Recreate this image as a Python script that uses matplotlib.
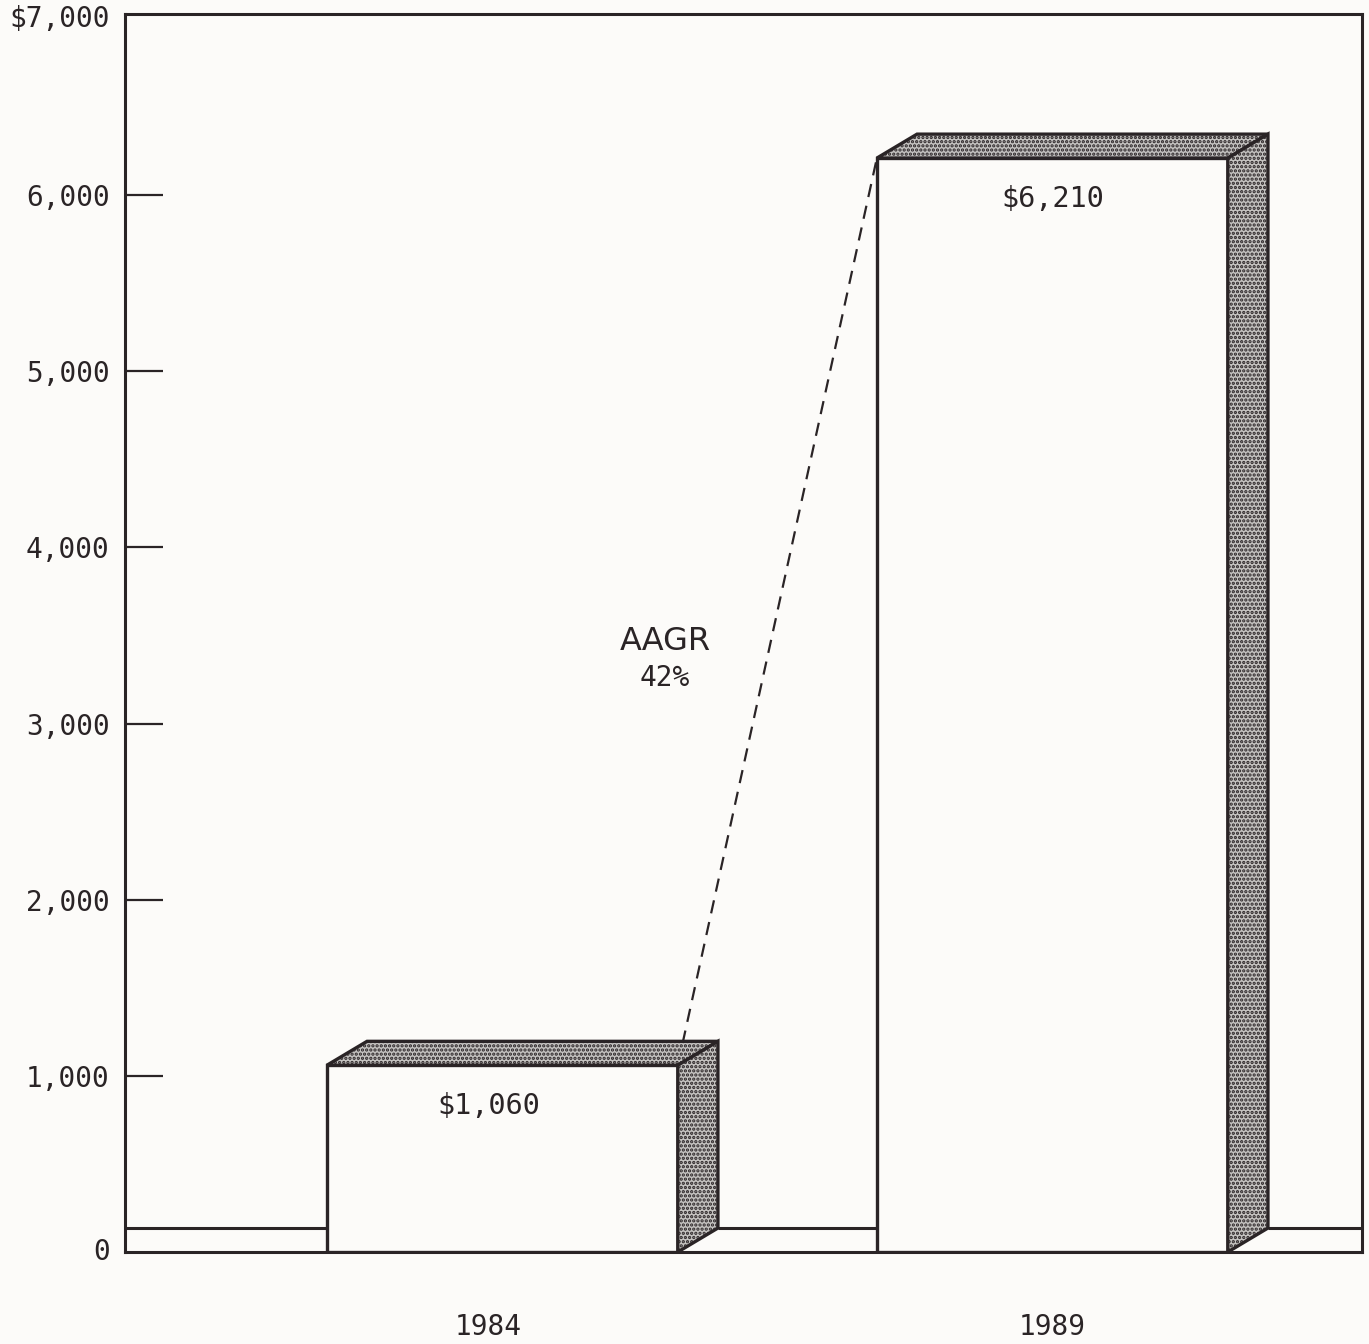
# Two-year revenue bar chart with pseudo-3D blocks and AAGR annotation

import numpy as np
import matplotlib.pyplot as plt
from matplotlib.patches import Polygon

# Data
years = ['1984', '1989']
values = [1060, 6210]
value_labels = ['$1,060', '$6,210']
yticks = [0, 1000, 2000, 3000, 4000, 5000, 6000, 7000]
ytick_labels = ['0', '1,000', '2,000', '3,000', '4,000', '5,000', '6,000', '$7,000']
growth_label = 'AAGR'
growth_value = '42%'

ink = '#2a2426'
bg = '#fcfbf9'
stipple = '#c4c2c0'
plt.rcParams['hatch.color'] = ink
plt.rcParams['hatch.linewidth'] = 1.6
mono = 'DejaVu Sans Mono'

fig = plt.figure(figsize=(13.69, 13.44), dpi=100, facecolor=bg)
ax = fig.add_axes([125 / 1369, 1 - 1252 / 1344, 1237 / 1369, (1252 - 14) / 1344])
ax.set_facecolor(bg)

xpos = np.arange(len(years))
width = 0.638
dx = 0.073        # depth offset, x (data units)
dy = 136          # depth offset, y (data units)
xmin, xmax = -0.686, 1.563
ax.set_xlim(xmin, xmax)
ax.set_ylim(0, 7028)
label_shift = [-10, 0]   # small horizontal nudges of the labels, points

# Back edge of the floor, broken by the bars
floor_x = [xmin]
for x in xpos:
    floor_x += [x - width / 2, x + width / 2 + dx]
floor_x.append(xmax)
for a, b in zip(floor_x[0::2], floor_x[1::2]):
    ax.plot([a, b], [dy, dy], color=ink, lw=2.2, solid_capstyle='butt', zorder=2)

# Dashed growth line between front top corners
ax.plot([xpos[0] + width / 2, xpos[1] - width / 2], [values[0], values[1]],
        color=ink, lw=1.6, ls=(0, (6, 4)), zorder=1)

for x, v, lab, yr, sh in zip(xpos, values, value_labels, years, label_shift):
    l, r = x - width / 2, x + width / 2
    # front face
    ax.add_patch(Polygon([(l, 0), (r, 0), (r, v), (l, v)], closed=True,
                         facecolor=bg, edgecolor=ink, lw=2.4, zorder=3))
    # top face
    ax.add_patch(Polygon([(l, v), (r, v), (r + dx, v + dy), (l + dx, v + dy)],
                         closed=True, facecolor=stipple, edgecolor=ink,
                         hatch='....', lw=2.4, zorder=4))
    # side face
    ax.add_patch(Polygon([(r, 0), (r + dx, dy), (r + dx, v + dy), (r, v)],
                         closed=True, facecolor=stipple, edgecolor=ink,
                         hatch='....', lw=2.4, zorder=4))
    ax.annotate(lab.replace('$', r'\$'), (x, v), xytext=(sh, -29.5),
                textcoords='offset points', ha='center', va='center',
                fontsize=20.5, color=ink, family=mono, zorder=5)
    ax.annotate(yr, (x, 0), xytext=(sh, -54), textcoords='offset points',
                ha='center', va='center', fontsize=20, color=ink, family=mono,
                annotation_clip=False)

ax.text(0.296, 3467, growth_label, ha='center', va='center', fontsize=23,
        color=ink, family='DejaVu Sans')
ax.text(0.296, 3258, growth_value, ha='center', va='center', fontsize=20,
        color=ink, family=mono)

# Axes styling
ax.set_xticks([])
ax.set_yticks(yticks[1:-1])
ax.set_yticklabels(ytick_labels[1:-1], family=mono, fontsize=20, color=ink)
ax.tick_params(axis='y', direction='in', length=27, width=1.6, color=ink, pad=11)
for t, lab in zip([yticks[0], yticks[-1]], [ytick_labels[0], ytick_labels[-1]]):
    ax.annotate(lab.replace('$', r'\$'), (xmin, t), xytext=(-11, 0),
                textcoords='offset points', ha='right', va='center',
                fontsize=20, color=ink, family=mono, annotation_clip=False)
for s in ax.spines.values():
    s.set_color(ink)
    s.set_linewidth(2.2)

fig.savefig('out.png', dpi=100, facecolor=bg)
